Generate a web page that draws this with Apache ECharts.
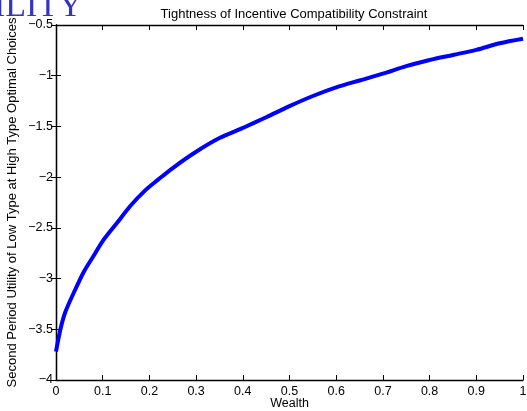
<!DOCTYPE html>
<html>
<head>
<meta charset="utf-8">
<script src="https://cdn.jsdelivr.net/npm/echarts@6/dist/echarts.min.js"></script>
<style>
  html, body { margin: 0; padding: 0; background: #fff; }
  #chart { width: 527px; height: 411px; }
</style>
</head>
<body>
<div id="chart"></div>
<script>
// values
const wealth = [0, 0.01, 0.02, 0.04, 0.06, 0.08, 0.1, 0.13, 0.16, 0.19, 0.22, 0.25, 0.3, 0.35,
  0.4, 0.45, 0.5, 0.55, 0.6, 0.65, 0.7, 0.75, 0.8, 0.85, 0.9, 0.95, 1.0]
const utility = [-3.72, -3.49, -3.33, -3.12, -2.93, -2.78, -2.63, -2.455, -2.28, -2.135, -2.02, -1.91,
  -1.75, -1.615, -1.515, -1.41, -1.3, -1.2, -1.115, -1.047, -0.98, -0.905, -0.845, -0.795, -0.745, -0.68, -0.635]
const xTicks = ['0', '0.1', '0.2', '0.3', '0.4', '0.5', '0.6', '0.7', '0.8', '0.9', '1']
const yTicks = ['\u22124', '\u22123.5', '\u22123', '\u22122.5', '\u22122', '\u22121.5', '\u22121', '\u22120.5']

const font = 'Liberation Sans'
const chart = echarts.init(document.getElementById('chart'))

const tickStyle = { inside: true, length: 5, lineStyle: { color: '#000', width: 1 } }
const lineStyle = { lineStyle: { color: '#000', width: 1.3 } }

chart.setOption({
  animation: false,
  textStyle: { fontFamily: font },
  title: {
    text: 'Tightness of Incentive Compatibility Constraint',
    left: 289,
    top: 3,
    textAlign: 'center',
    textStyle: { fontFamily: font, fontSize: 13, fontWeight: 'normal', color: '#000' },
  },
  grid: { left: 56, right: 4, top: 25, bottom: 31, outerBoundsMode: 'none' },
  xAxis: [
    {
      type: 'value',
      min: 0,
      max: 1,
      interval: 0.1,
      name: 'Wealth',
      nameLocation: 'middle',
      nameGap: 17,
      nameMoveOverlap: false,
      nameTextStyle: { fontFamily: font, fontSize: 12.5, color: '#000' },
      axisLine: lineStyle,
      axisTick: tickStyle,
      splitLine: { show: false },
      axisLabel: {
        margin: 5,
        fontFamily: font,
        fontSize: 12.5,
        color: '#000',
        formatter: (v) => xTicks[Math.round(v * 10)],
      },
    },
    {
      type: 'value',
      position: 'top',
      min: 0,
      max: 1,
      interval: 0.1,
      axisLine: lineStyle,
      axisTick: tickStyle,
      axisLabel: { show: false },
      splitLine: { show: false },
    },
  ],
  yAxis: [
    {
      type: 'value',
      min: -4,
      max: -0.5,
      interval: 0.5,
      name: 'Second Period Utility of Low Type at High Type Optimal Choices',
      nameLocation: 'middle',
      nameGap: 37,
      nameMoveOverlap: false,
      nameTextStyle: { fontFamily: font, fontSize: 13, color: '#000' },
      axisLine: lineStyle,
      axisTick: tickStyle,
      splitLine: { show: false },
      axisLabel: {
        margin: 3,
        fontFamily: font,
        fontSize: 12.5,
        color: '#000',
        formatter: (v) => yTicks[Math.round((v + 4) * 2)],
      },
    },
    {
      type: 'value',
      position: 'right',
      min: -4,
      max: -0.5,
      interval: 0.5,
      axisLine: lineStyle,
      axisTick: tickStyle,
      axisLabel: { show: false },
      splitLine: { show: false },
    },
  ],
  graphic: [
    {
      type: 'text',
      left: -6,
      top: -10,
      style: {
        text: 'ILITY',
        fontFamily: 'Liberation Serif',
        fontSize: 34,
        fill: '#3333c4',
      },
    },
  ],
  series: [
    {
      type: 'line',
      data: wealth.map((w, i) => [w, utility[i]]),
      showSymbol: false,
      smooth: 0.3,
      lineStyle: { color: '#0000ff', width: 4 },
    },
  ],
})
</script>
</body>
</html>
